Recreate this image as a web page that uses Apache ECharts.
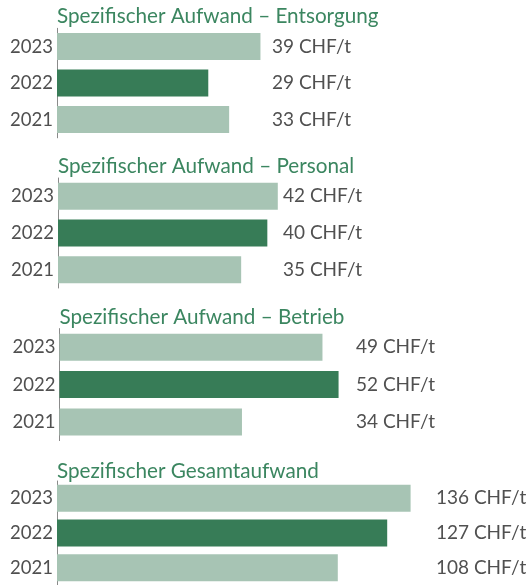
<!DOCTYPE html>
<html><head><meta charset="utf-8">
<script src="https://cdn.jsdelivr.net/npm/echarts@6/dist/echarts.min.js"></script>
<style>html,body{margin:0;padding:0;background:#fff}#c{width:531px;height:585px}</style>
</head><body><div id="c"></div>
<script>
const years = ['2023', '2022', '2021'];
const titles = [
  'Spezifischer Aufwand – Entsorgung',
  'Spezifischer Aufwand – Personal',
  'Spezifischer Aufwand – Betrieb',
  'Spezifischer Gesamtaufwand'
];
const entsorgung = [39, 29, 33];
const personal = [42, 40, 35];
const betrieb = [49, 52, 34];
const gesamt = [136, 127, 108];
const unit = ' CHF/t';

const panels = [entsorgung, personal, betrieb, gesamt];
const layout = [
  {left: 57, top: 28.3, height: 109.5, width: 313, max: 60, lab: 215, tTop: 5.5},
  {left: 58, top: 178, height: 110, width: 314, max: 60, lab: 225, tTop: 155.5},
  {left: 59.5, top: 328.6, height: 112, width: 322, max: 60, lab: 296.5, tTop: 306.5},
  {left: 57, top: 481, height: 111, width: 468, max: 180, lab: 379, tTop: 460.5}
];
const FONT = 'Lato';
const light = '#a7c4b4', dark = '#377c57', green = '#3b8660', grey = '#505050';

const option = {
  animation: false,
  title: [], grid: [], xAxis: [], yAxis: [], series: []
};
panels.forEach((vals, i) => {
  const L = layout[i];
  option.title.push({text: titles[i], left: L.left, top: L.tTop, padding: 0,
    textStyle: {fontFamily: FONT, fontSize: 20.7, fontWeight: 'normal', color: green}});
  option.grid.push({left: L.left, top: L.top, width: L.width, height: L.height});
  option.xAxis.push({gridIndex: i, type: 'value', min: 0, max: L.max, show: false});
  option.yAxis.push({gridIndex: i, type: 'category', data: years, inverse: true,
    axisLine: {show: true, lineStyle: {color: '#8a8a8a', width: 1}},
    axisTick: {show: false},
    axisLabel: {margin: 4, fontFamily: FONT, fontSize: 18.5, color: grey}});
  option.series.push({type: 'bar', xAxisIndex: i, yAxisIndex: i, data: vals,
    barWidth: 27,
    itemStyle: {color: p => p.dataIndex === 1 ? dark : light},
    label: {show: true, position: [L.lab, '50%'], align: 'left', verticalAlign: 'middle',
      formatter: p => p.value + unit, fontFamily: FONT, fontSize: 19, color: grey}});
});
const chart = echarts.init(document.getElementById('c'), null, {renderer: 'canvas'});
chart.setOption(option);
</script></body></html>
